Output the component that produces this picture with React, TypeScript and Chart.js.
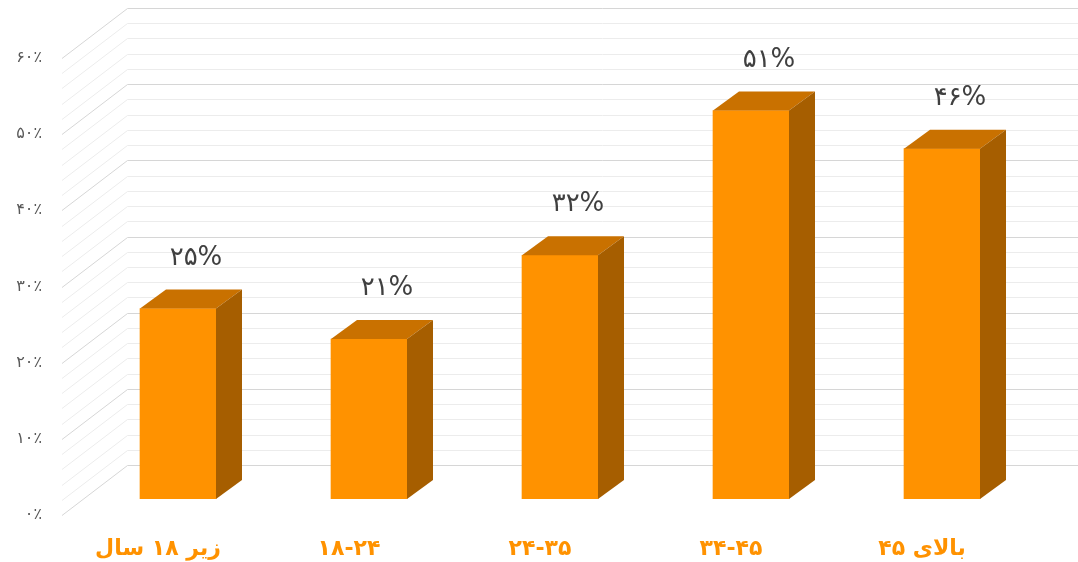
import React, { useEffect, useRef } from "react";
import { Chart, registerables } from "chart.js";

Chart.register(...registerables);

const categories = ["زیر ۱۸ سال", "۱۸-۲۴", "۲۴-۳۵", "۳۴-۴۵", "بالای ۴۵"];
const values = [25, 21, 32, 51, 46];
const valueLabels = ["۲۵%", "۲۱%", "۳۲%", "۵۱%", "۴۶%"];
const yTickLabels = ["۰٪", "۱۰٪", "۲۰٪", "۳۰٪", "۴۰٪", "۵۰٪", "۶۰٪"];

const FRONT = "#FF9200";
const TOP = "#C97100";
const SIDE = "#A65E00";
const FONT = "'DejaVu Sans', 'Noto Sans', sans-serif";

const DEPTH_X = 26;
const DEPTH_Y = 19;
const WALL_DX = 45;
const WALL_DY = 34;
const FRONT_DX = -20.5;
const FRONT_DY = 16;

const threeD = {
  id: "threeD",
  beforeDatasetsDraw(chart: any) {
    const { ctx, chartArea } = chart;
    const y = chart.scales.y;
    const x0 = chartArea.left;
    ctx.save();
    for (let v = 0; v <= 60; v += 2) {
      const py = Math.round(y.getPixelForValue(v)) + 0.5;
      const major = v % 10 === 0;
      ctx.strokeStyle = major ? "#d6d6d6" : "#ececec";
      ctx.lineWidth = 1;
      ctx.beginPath();
      ctx.moveTo(x0 + FRONT_DX, py + FRONT_DY);
      ctx.lineTo(x0 + WALL_DX, py - WALL_DY);
      ctx.lineTo(chart.width, py - WALL_DY);
      ctx.stroke();
    }
    ctx.restore();
  },
  afterDatasetsDraw(chart: any) {
    const { ctx } = chart;
    const meta = chart.getDatasetMeta(0);
    ctx.save();
    meta.data.forEach((bar: any, i: number) => {
      const { x, y, base, width } = bar.getProps(["x", "y", "base", "width"], true);
      const l = x - width / 2;
      const r = x + width / 2;
      // top face
      ctx.fillStyle = TOP;
      ctx.beginPath();
      ctx.moveTo(l, y);
      ctx.lineTo(r, y);
      ctx.lineTo(r + DEPTH_X, y - DEPTH_Y);
      ctx.lineTo(l + DEPTH_X, y - DEPTH_Y);
      ctx.closePath();
      ctx.fill();
      // side face
      ctx.fillStyle = SIDE;
      ctx.beginPath();
      ctx.moveTo(r, y);
      ctx.lineTo(r + DEPTH_X, y - DEPTH_Y);
      ctx.lineTo(r + DEPTH_X, base - DEPTH_Y);
      ctx.lineTo(r, base);
      ctx.closePath();
      ctx.fill();
      // value label
      ctx.fillStyle = "#404040";
      ctx.font = `26px ${FONT}`;
      ctx.textAlign = "center";
      ctx.textBaseline = "alphabetic";
      ctx.fillText(valueLabels[i], x + 18, y - 44);
    });
    ctx.restore();
  },
};

export default function App() {
  const ref = useRef<HTMLCanvasElement>(null);
  useEffect(() => {
    if (!ref.current) return;
    const chart = new Chart(ref.current, {
      type: "bar",
      data: {
        labels: categories,
        datasets: [
          {
            data: values,
            backgroundColor: FRONT,
            borderWidth: 0,
            barThickness: 76,
          },
        ],
      },
      plugins: [threeD],
      options: {
        responsive: false,
        animation: false,
        layout: { padding: { top: 42, right: 40.5, left: 0, bottom: 0 } },
        plugins: { legend: { display: false }, tooltip: { enabled: false } },
        scales: {
          x: {
            grid: { display: false, drawTicks: false },
            border: { display: false },
            ticks: {
              color: FRONT,
              font: { family: FONT, size: 22, weight: "bold" },
              padding: 37,
              labelOffset: -20,
              autoSkip: false,
              maxRotation: 0,
            },
            afterFit(scale: any) {
              scale.height = 63;
              scale.paddingLeft = 0;
              scale.paddingRight = 0;
            },
          },
          y: {
            min: 0,
            max: 60,
            grid: { display: false, drawTicks: false },
            border: { display: false },
            ticks: {
              stepSize: 10,
              color: "#595959",
              font: { family: FONT, size: 16 },
              padding: 40.5,
              labelOffset: 16,
              callback: (v: any) => yTickLabels[Math.round(Number(v) / 10)],
            },
            afterFit(scale: any) {
              scale.width = 82.5;
              scale.paddingTop = 0;
              scale.paddingBottom = 0;
            },
          },
        },
      },
    });
    return () => chart.destroy();
  }, []);
  return (
    <div style={{ position: "fixed", left: 0, top: 0, width: 1078, height: 562, background: "#fff" }}>
      <canvas ref={ref} width={1078} height={562} />
    </div>
  );
}
